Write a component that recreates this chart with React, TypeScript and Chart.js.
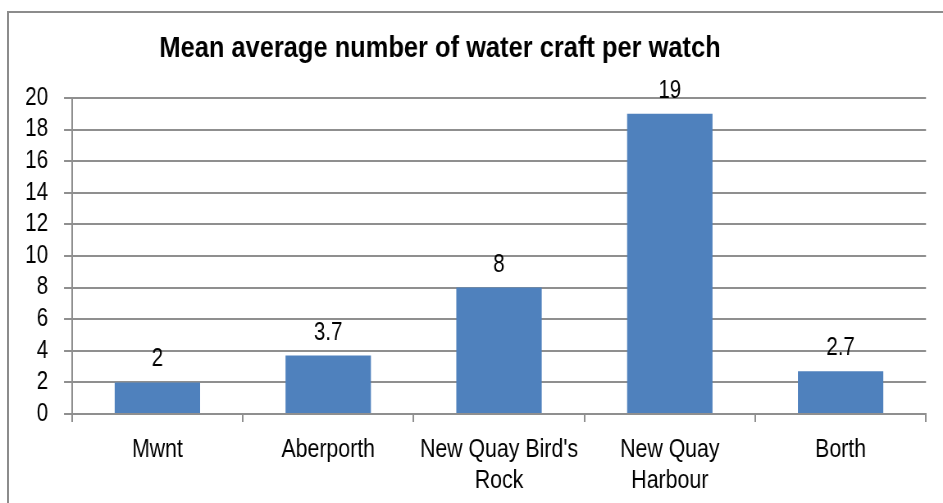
import React, { useEffect, useRef } from "react";
import { Chart, registerables } from "chart.js";

Chart.register(...registerables);

const TITLE = "Mean average number of water craft per watch";
const CATEGORIES: (string | string[])[] = [
  "Mwnt",
  "Aberporth",
  ["New Quay Bird's", "Rock"],
  ["New Quay", "Harbour"],
  "Borth",
];
const VALUES = [2, 3.7, 8, 19, 2.7];
const Y_MIN = 0;
const Y_MAX = 20;
const Y_STEP = 2;

// The reference uses a narrow (Arial Narrow–like) face; emulate it by
// drawing on a wider canvas and compressing it horizontally.
const SX = 0.82;
const PAGE_W = 943;
const PAGE_H = 503;
const CW = Math.round(PAGE_W / SX);

const FONT = "'Liberation Sans', Arial, sans-serif";
const GRID = "#8f8f8f";
const BAR = "#4F81BD";

export default function App() {
  const ref = useRef<HTMLCanvasElement | null>(null);

  useEffect(() => {
    document.body.style.margin = "0";
    document.body.style.overflow = "hidden";
    const canvas = ref.current;
    if (!canvas) return;

    const titlePlugin = {
      id: "customTitle",
      afterDraw(chart: any) {
        const ctx = chart.ctx;
        ctx.save();
        ctx.font = `bold 29px ${FONT}`;
        ctx.fillStyle = "#000";
        ctx.textAlign = "center";
        ctx.textBaseline = "alphabetic";
        const cx = 440 / SX;
        ctx.translate(cx, 57);
        ctx.scale(1.07, 1);
        ctx.fillText(TITLE, 0, 0);
        ctx.restore();
      },
    };

    const labelPlugin = {
      id: "barLabels",
      afterDatasetsDraw(chart: any) {
        const ctx = chart.ctx;
        const meta = chart.getDatasetMeta(0);
        ctx.save();
        ctx.font = `25px ${FONT}`;
        ctx.fillStyle = "#000";
        ctx.textAlign = "center";
        ctx.textBaseline = "alphabetic";
        meta.data.forEach((bar: any, i: number) => {
          ctx.fillText(String(VALUES[i]), bar.x, bar.y - 16);
        });
        ctx.restore();
      },
    };

    const chart = new Chart(canvas, {
      type: "bar",
      data: {
        labels: CATEGORIES,
        datasets: [
          {
            data: VALUES,
            backgroundColor: BAR,
            borderWidth: 0,
            categoryPercentage: 1,
            barPercentage: 0.5,
          },
        ],
      },
      options: {
        responsive: false,
        animation: false,
        layout: { padding: { left: 0, right: CW - 926 / SX, top: 98, bottom: 0 } },
        plugins: {
          legend: { display: false },
          title: { display: false },
          tooltip: { enabled: false },
        },
        scales: {
          x: {
            grid: {
              display: true,
              drawOnChartArea: false,
              drawTicks: true,
              tickLength: 8,
              color: GRID,
              lineWidth: 2,
              offset: true,
            },
            border: { display: true, color: GRID, width: 2 },
            ticks: {
              color: "#000",
              font: { family: FONT, size: 26, lineHeight: 1.2 },
              padding: 12,
              maxRotation: 0,
              autoSkip: false,
            },
            afterFit(scale: any) {
              scale.height = PAGE_H - 414;
            },
          },
          y: {
            min: Y_MIN,
            max: Y_MAX,
            grid: {
              color: GRID,
              lineWidth: 2,
              drawTicks: true,
              tickLength: 8 / SX,
            },
            border: { display: true, color: GRID, width: 2 },
            ticks: {
              stepSize: Y_STEP,
              autoSkip: false,
              color: "#000",
              font: { family: FONT, size: 25 },
              padding: 19.5,
            },
            afterFit(scale: any) {
              scale.width = 72 / SX;
            },
          },
        },
      },
      plugins: [titlePlugin, labelPlugin],
    });

    return () => chart.destroy();
  }, []);

  return (
    <div style={{ position: "relative", width: PAGE_W, height: PAGE_H, overflow: "hidden" }}>
      <div
        style={{
          position: "absolute",
          left: 7,
          top: 11,
          width: 1000,
          height: 600,
          border: "2px solid #8c8c8c",
          boxSizing: "border-box",
        }}
      />
      <canvas
        ref={ref}
        width={CW}
        height={PAGE_H}
        style={{
          position: "absolute",
          left: 0,
          top: 0,
          width: CW,
          height: PAGE_H,
          transform: `scaleX(${SX})`,
          transformOrigin: "0 0",
        }}
      />
    </div>
  );
}
